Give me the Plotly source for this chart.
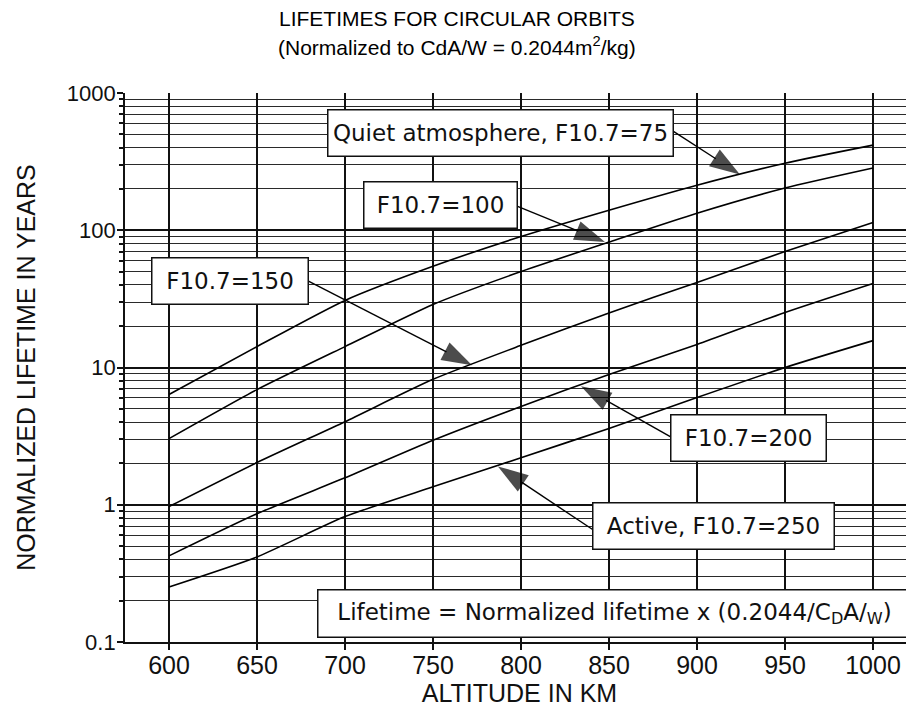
import numpy as np
import plotly.graph_objects as go

# ---------------- data ----------------
altitude_km = [600, 650, 700, 750, 800, 850, 900, 950, 1000]
life_f075 = [6.35, 14.2, 30.8, 54.6, 90, 140, 213, 308, 417]
life_f100 = [3.03, 6.9, 14.2, 28.8, 50, 82, 133, 203, 284]
life_f150 = [0.97, 2.03, 4.03, 8.2, 14.5, 25, 41.7, 70, 114]
life_f200 = [0.424, 0.86, 1.57, 2.95, 5.2, 8.9, 14.7, 25.2, 41]
life_f250 = [0.252, 0.417, 0.82, 1.35, 2.2, 3.6, 6.04, 10, 15.7]

series = [life_f075, life_f100, life_f150, life_f200, life_f250]

x_ticks = [600, 650, 700, 750, 800, 850, 900, 950, 1000]
y_tickvals = [0.1, 1, 10, 100, 1000]
y_ticktext = ["0.1", "1", "10", "100", "1000"]

# label boxes: text, centre (altitude, lifetime), box width px
labels = ["Quiet atmosphere, F10.7=75", "F10.7=100", "F10.7=150",
          "F10.7=200", "Active, F10.7=250"]
label_x = [788.1, 754.5, 634.4, 929.5, 909.1]
label_y = [510, 152, 42.8, 3.06, 0.697]
label_w = [344, 152, 155, 154, 240]

# arrows: tail (at box edge) -> tip (on curve)
arrow_tail_x = [886.4, 797.7, 678.4, 885.8, 840.9]
arrow_tail_y = [528, 150, 43.2, 3.08, 0.657]
arrow_tip_x = [924.4, 847.7, 772.2, 834.1, 786.9]
arrow_tip_y = [255, 82, 10.4, 7.3, 1.9]

note_text = "Lifetime = Normalized lifetime x (0.2044/C<sub>D</sub>A/<sub>W</sub>)"
note_x, note_y = 853.4, 0.16

# ---------------- figure ----------------
fig = go.Figure()

for s in series:
    fig.add_trace(go.Scatter(x=altitude_km, y=s, mode="lines",
                             line=dict(color="#000", width=1.6, shape="spline", smoothing=0.6),
                             showlegend=False, hoverinfo="skip"))

for tx, ty, hx, hy in zip(arrow_tail_x, arrow_tail_y, arrow_tip_x, arrow_tip_y):
    fig.add_trace(go.Scatter(
        x=[tx, hx], y=[ty, hy], mode="lines+markers",
        line=dict(color="#000", width=1.4),
        marker=dict(symbol="arrow", size=[0, 32], angleref="previous",
                    color="#000", line=dict(width=0)),
        showlegend=False, hoverinfo="skip"))

ann_font = dict(family="DejaVu Sans", size=23, color="#111")
for t, x, y, w in zip(labels, label_x, label_y, label_w):
    fig.add_annotation(x=x, y=np.log10(y), xref="x", yref="y", text=t,
                       showarrow=False, font=ann_font, bgcolor="white",
                       bordercolor="#111", borderwidth=1.5, borderpad=2,
                       width=w - 4, height=41, align="center",
                       xanchor="center", yanchor="middle")

fig.add_annotation(x=note_x, y=np.log10(note_y), xref="x", yref="y", text=note_text,
                   showarrow=False, font=ann_font, bgcolor="white",
                   bordercolor="#111", borderwidth=1.5, borderpad=2,
                   width=588, height=42, align="center",
                   xanchor="center", yanchor="middle")

title_font = dict(family="Liberation Sans, Arial", size=21, color="#000")
fig.add_annotation(x=0.4208, y=1.1348, xref="paper", yref="paper",
                   text="LIFETIMES FOR CIRCULAR ORBITS", showarrow=False,
                   font=title_font, xanchor="center", yanchor="middle")
fig.add_annotation(x=0.4208, y=1.0856, xref="paper", yref="paper",
                   text="(Normalized to CdA/W = 0.2044m<sup>2</sup>/kg)", showarrow=False,
                   font=title_font, xanchor="center", yanchor="middle")

xtick_font = dict(family="Liberation Sans, Arial", size=25, color="#111")
ytick_font = dict(family="Liberation Sans, Arial", size=22, color="#111")
axis_title_font = dict(family="Liberation Sans, Arial", size=25, color="#111")

fig.update_xaxes(range=[575, 1023.3], tickmode="array", tickvals=x_ticks,
                 showgrid=True, gridcolor="#111", gridwidth=1.5,
                 ticks="outside", ticklen=6, tickwidth=1.5, tickcolor="#111",
                 ticklabelstandoff=-6,
                 showline=True, linecolor="#111", linewidth=1.8, zeroline=False,
                 tickfont=xtick_font,
                 title=dict(text="ALTITUDE IN KM", font=axis_title_font, standoff=7))

fig.update_yaxes(type="log", range=[-1, 3], tickmode="array",
                 tickvals=y_tickvals, ticktext=y_ticktext,
                 showgrid=True, gridcolor="#111", gridwidth=1.5,
                 ticks="outside", ticklen=6, tickwidth=1.5, tickcolor="#111",
                 ticklabelstandoff=-3,
                 minor=dict(dtick="D1", showgrid=True, gridcolor="#2a2a2a", gridwidth=1.3,
                            ticks="outside", ticklen=4, tickcolor="#111"),
                 showline=True, linecolor="#111", linewidth=1.8, zeroline=False,
                 tickfont=ytick_font,
                 title=dict(text="NORMALIZED LIFETIME IN YEARS", font=axis_title_font, standoff=24))

# figure is 906x700 because the page body adds an 8px margin
fig.update_layout(width=906, height=700, margin=dict(l=117, r=0, t=85, b=66),
                  paper_bgcolor="white", plot_bgcolor="white",
                  font=dict(family="Liberation Sans, Arial", color="#111"))

fig.write_html("out.html")
